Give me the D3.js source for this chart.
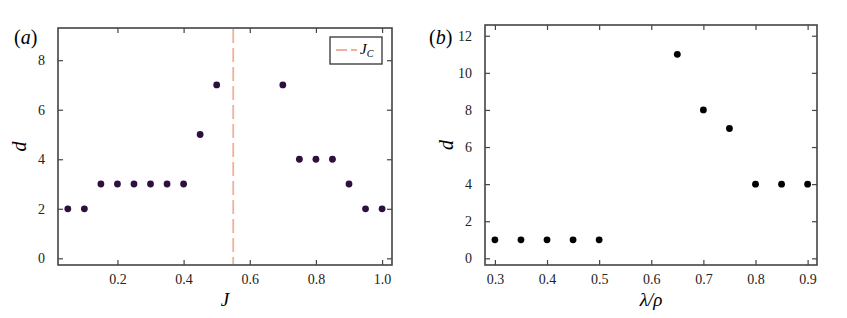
<!DOCTYPE html>
<html>
<head>
<meta charset="utf-8">
<script src="https://cdn.jsdelivr.net/npm/d3@7"></script>
<style>
body { margin: 0; background: #fff; }
svg { display: block; font-family: "Liberation Serif", "DejaVu Serif", serif; }
</style>
</head>
<body>
<script>
// panel (a): d vs J
var jValues = [0.05, 0.1, 0.15, 0.2, 0.25, 0.3, 0.35, 0.4, 0.45, 0.5, 0.7, 0.75, 0.8, 0.85, 0.9, 0.95, 1.0],
	dA = [2, 2, 3, 3, 3, 3, 3, 3, 5, 7, 7, 4, 4, 4, 3, 2, 2],
	jCritical = 0.55,
	xTicksA = [0.2, 0.4, 0.6, 0.8, 1.0],
	yTicksA = [0, 2, 4, 6, 8];

// panel (b): d vs lambda/rho
var ratio = [0.3, 0.35, 0.4, 0.45, 0.5, 0.65, 0.7, 0.75, 0.8, 0.85, 0.9],
	dB = [1, 1, 1, 1, 1, 11, 8, 7, 4, 4, 4],
	xTicksB = [0.3, 0.4, 0.5, 0.6, 0.7, 0.8, 0.9],
	yTicksB = [0, 2, 4, 6, 8, 10, 12];

var width = 847, height = 318,
	serif = "'Liberation Serif', 'DejaVu Serif', serif";
var svg = d3.select("body").append("svg")
	.attr("width", width)
	.attr("height", height);

function panel(opt) {
	var g = svg.append("g");
	var x = d3.scaleLinear().domain(opt.xDomain).range([opt.left, opt.right]),
		y = d3.scaleLinear().domain(opt.yDomain).range([opt.bottom, opt.top]);

	// inward ticks on all four sides
	g.append("g")
		.attr("transform", "translate(0," + opt.bottom + ")")
		.call(d3.axisBottom(x).tickValues(opt.xTicks).tickSizeInner(-5).tickSizeOuter(0).tickPadding(9).tickFormat(d3.format(".1f")));
	g.append("g")
		.attr("transform", "translate(0," + opt.top + ")")
		.call(d3.axisTop(x).tickValues(opt.xTicks).tickSizeInner(-5).tickSizeOuter(0).tickFormat(""));
	g.append("g")
		.attr("transform", "translate(" + opt.left + ",0)")
		.call(d3.axisLeft(y).tickValues(opt.yTicks).tickSizeInner(-5).tickSizeOuter(0).tickPadding(13).tickFormat(d3.format("d")));
	g.append("g")
		.attr("transform", "translate(" + opt.right + ",0)")
		.call(d3.axisRight(y).tickValues(opt.yTicks).tickSizeInner(-5).tickSizeOuter(0).tickFormat(""));

	g.selectAll("g").attr("font-family", serif).attr("font-size", 14);
	g.selectAll(".tick text").attr("fill", "#222");
	g.selectAll(".domain").remove();
	g.selectAll(".tick line").attr("stroke", "#444").attr("stroke-width", 1.2);

	g.append("rect")
		.attr("x", opt.left).attr("y", opt.top)
		.attr("width", opt.right - opt.left).attr("height", opt.bottom - opt.top)
		.attr("fill", "none").attr("stroke", "#444").attr("stroke-width", 1.6);

	g.selectAll(".dot")
		.data(opt.xs)
		.enter().append("circle")
		.attr("class", "dot")
		.attr("cx", function(d) { return x(d); })
		.attr("cy", function(d, i) { return y(opt.ys[i]); })
		.attr("r", 3.4)
		.attr("fill", opt.color);

	// axis labels
	g.append("text")
		.attr("x", (opt.left + opt.right) / 2)
		.attr("y", 306)
		.attr("text-anchor", "middle")
		.style("font-size", "19px")
		.style("font-style", "italic")
		.text(opt.xLabel);
	g.append("text")
		.attr("transform", "translate(" + (opt.left - 32) + "," + ((opt.top + opt.bottom) / 2) + ") rotate(-90)")
		.attr("text-anchor", "middle")
		.style("font-size", "20px")
		.style("font-style", "italic")
		.text("d");

	// panel tag
	var tag = g.append("text")
		.attr("x", opt.tagX)
		.attr("y", 44)
		.style("font-size", "20px");
	tag.append("tspan").text("(");
	tag.append("tspan").style("font-style", "italic").text(opt.tag);
	tag.append("tspan").text(")");

	return {g: g, x: x, y: y};
}

var a = panel({
	left: 58, right: 392, top: 28, bottom: 265,
	xDomain: [0.0203, 1.03], yDomain: [-0.27, 9.3],
	xTicks: xTicksA, yTicks: yTicksA,
	xs: jValues, ys: dA, color: "#2f0f3d",
	xLabel: "J", tag: "a", tagX: 14
});

// critical J line
a.g.append("line")
	.attr("x1", a.x(jCritical)).attr("x2", a.x(jCritical))
	.attr("y1", 29).attr("y2", 264)
	.attr("stroke", "#f2b09c").attr("stroke-width", 1.8)
	.attr("stroke-dasharray", "14,5");

// legend
var leg = a.g.append("g");
leg.append("rect")
	.attr("x", 330).attr("y", 37).attr("width", 52).attr("height", 27)
	.attr("fill", "#fff").attr("stroke", "#333").attr("stroke-width", 1.3);
leg.append("line")
	.attr("x1", 336).attr("x2", 357).attr("y1", 50).attr("y2", 50)
	.attr("stroke", "#f2b09c").attr("stroke-width", 1.8)
	.attr("stroke-dasharray", "11,4");
var lt = leg.append("text")
	.attr("x", 360).attr("y", 54)
	.style("font-size", "15px")
	.style("font-style", "italic");
lt.append("tspan").text("J");
lt.append("tspan").attr("dy", 3).style("font-size", "10px").text("C");

panel({
	left: 485, right: 817, top: 25, bottom: 265,
	xDomain: [0.281, 0.918], yDomain: [-0.36, 12.58],
	xTicks: xTicksB, yTicks: yTicksB,
	xs: ratio, ys: dB, color: "#000",
	xLabel: "λ/ρ", tag: "b", tagX: 429
});
</script>
</body>
</html>
